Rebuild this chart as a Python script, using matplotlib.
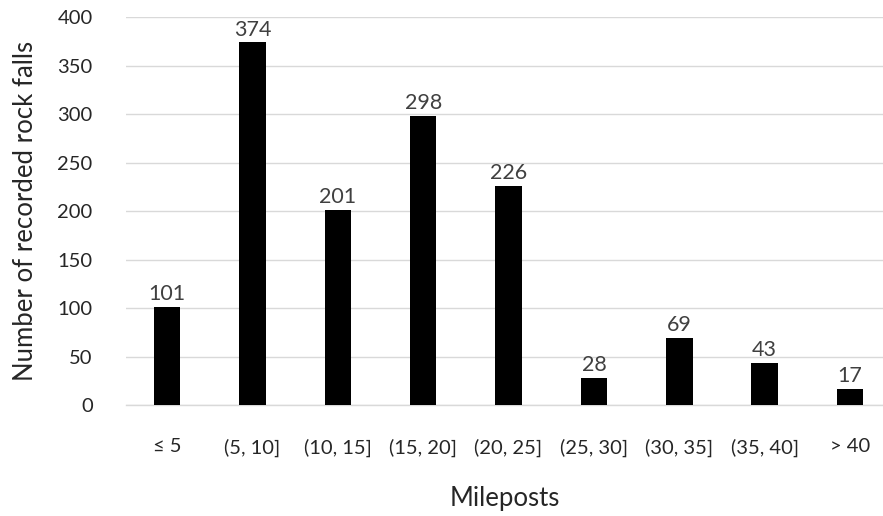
import matplotlib
matplotlib.use("Agg")
import matplotlib.pyplot as plt

plt.rcParams['font.family'] = ['Lato', 'DejaVu Sans']

categories = ["\u2264 5", "(5, 10]", "(10, 15]", "(15, 20]", "(20, 25]",
              "(25, 30]", "(30, 35]", "(35, 40]", "> 40"]
counts = [101, 374, 201, 298, 226, 28, 69, 43, 17]
y_ticks = [0, 50, 100, 150, 200, 250, 300, 350, 400]

fig = plt.figure(figsize=(8.83, 5.16), dpi=100)
ax = fig.add_axes([0.1427, 0.215, 0.8573, 0.7515])

x = list(range(len(categories)))
bars = ax.bar(x, counts, width=0.31, color="black", zorder=3)
for xi, v in zip(x, counts):
    ax.text(xi, v + 3, str(v), ha="center", va="bottom", fontsize=15.5,
            color="#404040")

ax.set_xlim(-0.48, 8.386)
ax.set_ylim(0, 400)
ax.set_yticks(y_ticks)
ax.set_xticks(x)
ax.set_xticklabels(categories)
ax.yaxis.grid(True, color="#d9d9d9", linewidth=1, zorder=0)
ax.set_axisbelow(True)
for side in ["top", "right", "left"]:
    ax.spines[side].set_visible(False)
ax.spines["bottom"].set_color("#d9d9d9")
ax.spines["bottom"].set_linewidth(1)
ax.tick_params(axis="both", length=0, labelsize=14.5, colors="#262626")
ax.tick_params(axis="y", pad=24)
ax.tick_params(axis="x", pad=24)
ax.set_ylabel("Number of recorded rock falls", fontsize=18.5, color="#262626",
              labelpad=14)
ax.set_xlabel("Mileposts", fontsize=18.5, color="#262626", labelpad=21)

fig.savefig("out.png", dpi=100)
